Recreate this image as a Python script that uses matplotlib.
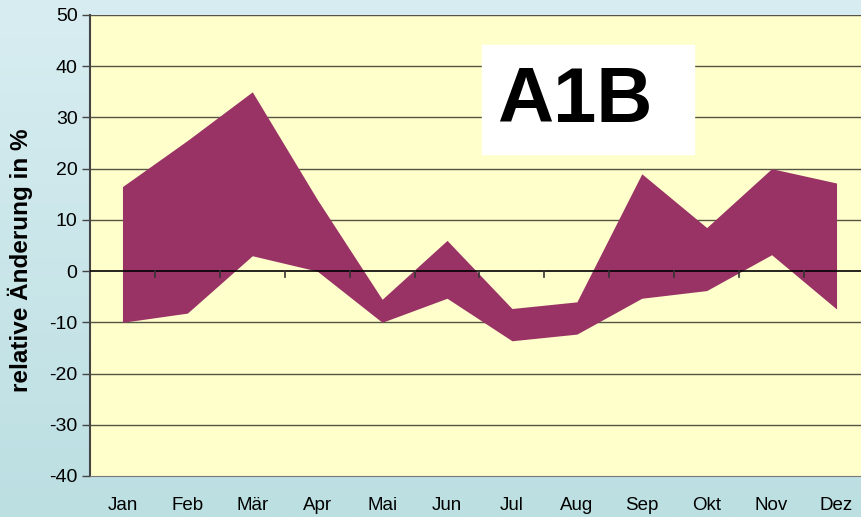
import numpy as np
import matplotlib
matplotlib.use("Agg")
import matplotlib.pyplot as plt
from matplotlib.colors import LinearSegmentedColormap

plt.rcParams['font.family'] = ['Liberation Sans', 'DejaVu Sans']
plt.rcParams['axes.unicode_minus'] = False

# data
months = ["Jan", "Feb", "Mär", "Apr", "Mai", "Jun", "Jul", "Aug", "Sep", "Okt", "Nov", "Dez"]
upper = [16.5, 25.5, 35.0, 14.0, -5.5, 6.0, -7.3, -6.0, 19.0, 8.5, 20.0, 17.2]
lower = [-10.0, -8.2, 3.0, 0.0, -10.0, -5.3, -13.6, -12.3, -5.3, -3.8, 3.2, -7.4]
y_ticks = [-40, -30, -20, -10, 0, 10, 20, 30, 40, 50]

W, H = 861, 517
fig = plt.figure(figsize=(W / 100, H / 100), dpi=100)

# background gradient
bg = fig.add_axes([0, 0, 1, 1], zorder=-10)
cmap = LinearSegmentedColormap.from_list("bg", ["#d8edf1", "#bcdfe2"])
bg.imshow(np.linspace(0, 1, 256).reshape(-1, 1), aspect="auto", cmap=cmap,
          extent=[0, 1, 0, 1])
bg.axis("off")

left, right, top, bottom = 90, 869, 15, 476
ax = fig.add_axes([left / W, (H - bottom) / H, (right - left) / W, (bottom - top) / H])
ax.set_facecolor("#ffffcc")

x = np.arange(len(months))
ax.fill_between(x, lower, upper, color="#993366", lw=0, zorder=2)

ax.set_xlim(-0.5, len(months) - 0.5)
ax.set_ylim(-40, 50)
ax.set_yticks(y_ticks)
ax.tick_params(axis="y", labelsize=14, length=6, width=1, color="#444444", pad=3)

for v in y_ticks[1:]:
    if v != 0:
        ax.axhline(v, color="#555544", lw=1, zorder=1)
ax.axhline(0, color="black", lw=1.2, zorder=3)

# tick marks between categories on the zero line
for b in np.arange(0.5, len(months) - 1, 1.0):
    ax.plot([b, b], [0, -1.2], color="#333333", lw=1.2, zorder=3, clip_on=False)

ax.set_xticks(x)
ax.set_xticklabels(months)
ax.tick_params(axis="x", length=0, labelsize=13.5, pad=15)

for s in ["top", "right"]:
    ax.spines[s].set_visible(False)
ax.spines["left"].set_color("#444444")
ax.spines["left"].set_linewidth(1.5)
ax.spines["bottom"].set_color("#777777")

fig.text(20 / W, (H - 260) / H, "relative Änderung in %", fontsize=17.5, fontweight="bold",
         rotation=90, ha="center", va="center")

# A1B label box
fig.patches.append(plt.Rectangle((482 / W, (H - 154) / H), (694 - 482) / W, (154 - 45) / H,
                                 transform=fig.transFigure, color="white", zorder=5))
fig.text(575 / W, (H - 101) / H, "A1B", fontsize=56, fontweight="bold",
         ha="center", va="center", zorder=6)

fig.savefig("out.png", dpi=100)
